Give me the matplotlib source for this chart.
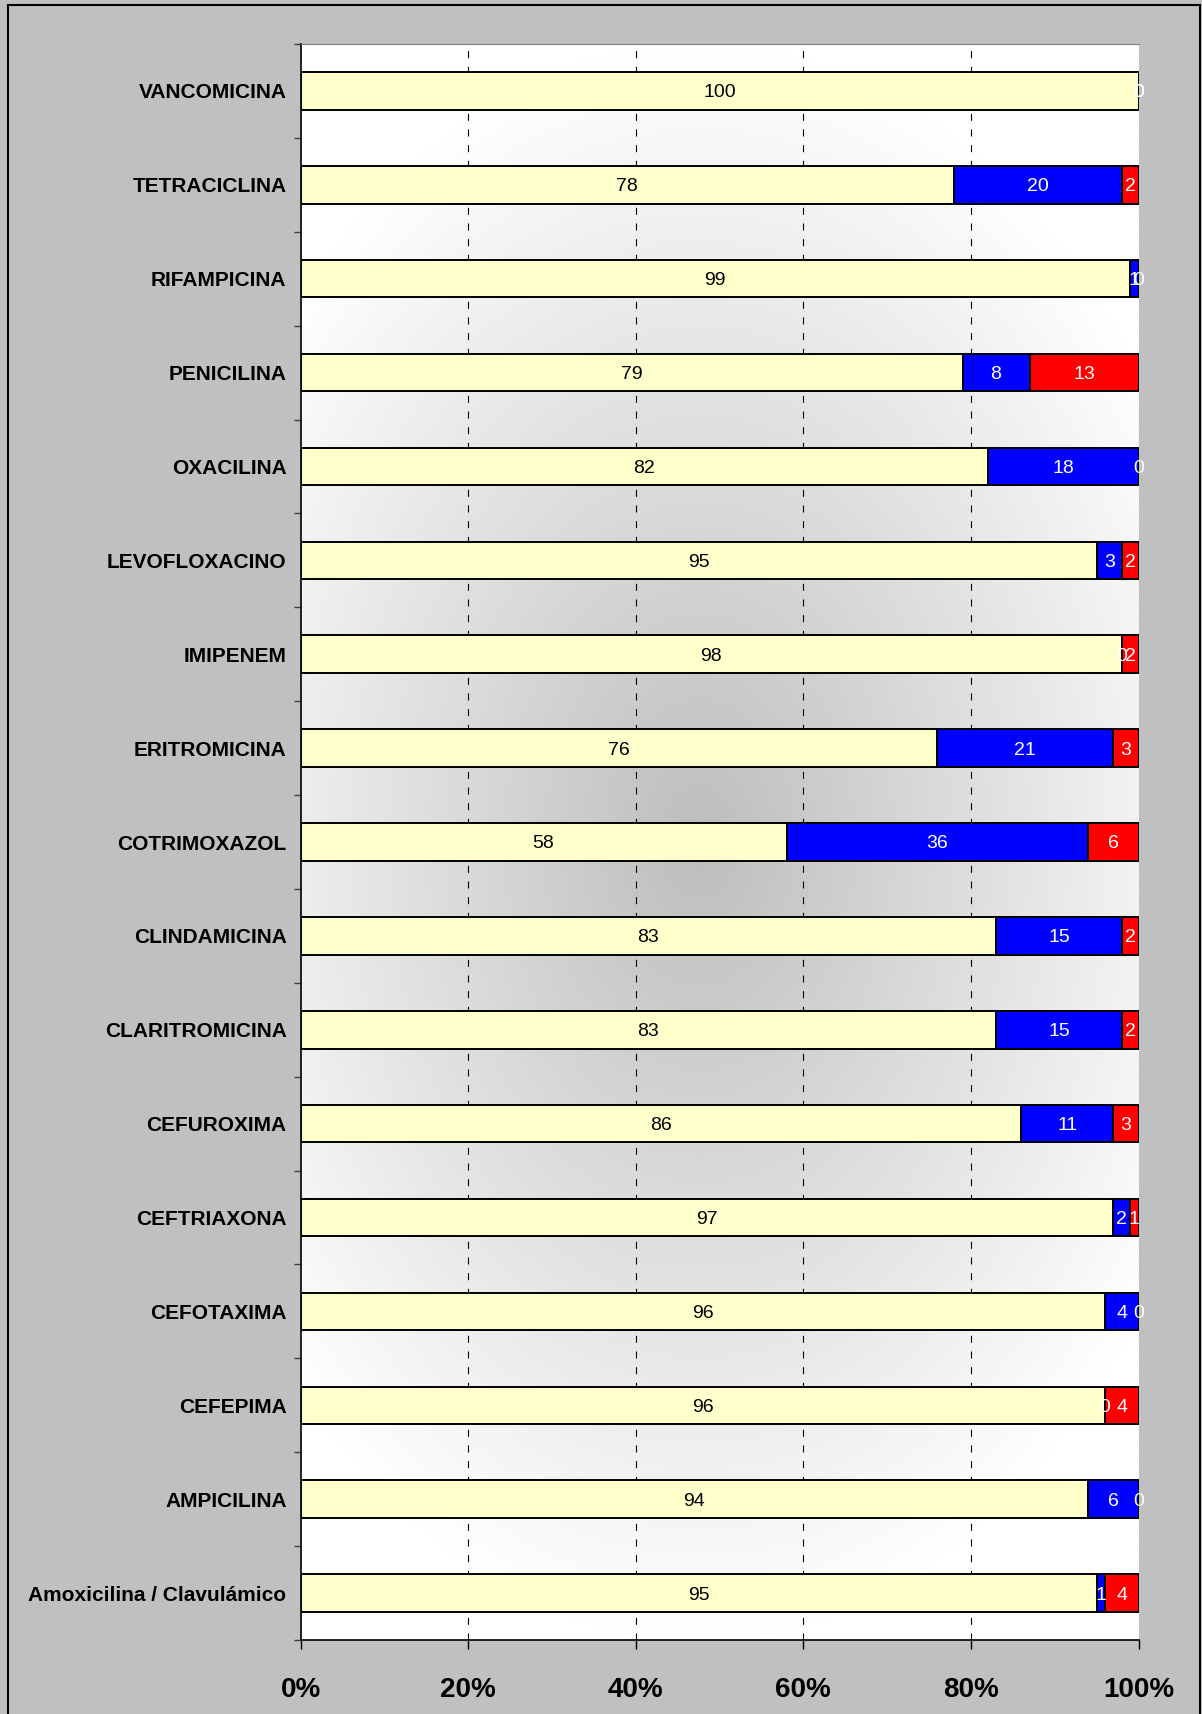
"""Susceptibility profile per antibiotic, stacked 100% horizontal bars."""

import numpy as np
import matplotlib

matplotlib.use("Agg")
import matplotlib.pyplot as plt
from matplotlib.lines import Line2D

plt.rcParams["font.family"] = ["Liberation Sans", "DejaVu Sans"]

# bottom to top, as drawn
antibiotics = [
    "Amoxicilina / Clavulámico",
    "AMPICILINA",
    "CEFEPIMA",
    "CEFOTAXIMA",
    "CEFTRIAXONA",
    "CEFUROXIMA",
    "CLARITROMICINA",
    "CLINDAMICINA",
    "COTRIMOXAZOL",
    "ERITROMICINA",
    "IMIPENEM",
    "LEVOFLOXACINO",
    "OXACILINA",
    "PENICILINA",
    "RIFAMPICINA",
    "TETRACICLINA",
    "VANCOMICINA",
]
sensible = [95, 94, 96, 96, 97, 86, 83, 83, 58, 76, 98, 95, 82, 79, 99, 78, 100]
resistente = [1, 6, 0, 4, 2, 11, 15, 15, 36, 21, 0, 3, 18, 8, 1, 20, 0]
intermedio = [4, 0, 4, 0, 1, 3, 2, 2, 6, 3, 2, 2, 0, 13, 0, 2, 0]

x_ticks = [0, 20, 40, 60, 80, 100]

series = [
    (sensible, "#FFFFCC", "black"),
    (resistente, "#0000FF", "white"),
    (intermedio, "#FF0000", "white"),
]

W, H = 1202, 1714
fig = plt.figure(figsize=(W / 100, H / 100), dpi=100, facecolor="#C0C0C0")
ax = fig.add_axes([300.5 / W, 1 - 1640 / H, (1138.5 - 300.5) / W, (1640 - 44) / H])

n = len(antibiotics)
y = np.arange(n)
ax.set_xlim(0, 100)
ax.set_ylim(-0.5, n - 0.5)

# grey shading of the plot area, darkest in the middle, fading to white
gx, gy = np.meshgrid(np.linspace(-1, 1, 400), np.linspace(-1, 1, 400))
r = np.sqrt(((gx + 0.05) / 1.3) ** 2 + (gy / 1.0) ** 2)
frac = np.clip(1.0 - r, 0, 1)
shade = (255 - 66 * frac) / 255.0
rgb = np.dstack([shade, shade, shade])
ax.imshow(rgb, extent=(0, 100, -0.5, n - 0.5), aspect="auto", zorder=0,
          interpolation="bilinear")

for xv in x_ticks[1:-1]:
    ax.axvline(xv, color="black", lw=0.8, linestyle=(0, (6.3, 7.8)), zorder=1)
ax.axvline(100, color="#808080", lw=0.8, linestyle=(0, (6.3, 7.8)), zorder=1)

left = np.zeros(n)
for vals, color, txt_color in series:
    vals = np.array(vals, dtype=float)
    ax.barh(y, vals, left=left, height=0.4, color=color, edgecolor="black",
            linewidth=1.4, zorder=2)
    for yi, (l, v) in enumerate(zip(left, vals)):
        ax.text(l + v / 2, yi, f"{int(v)}", ha="center", va="center_baseline",
                color=txt_color, fontsize=14, zorder=3, clip_on=False)
    left += vals

ax.set_xticks(x_ticks)
ax.set_xticklabels([f"{v}%" for v in x_ticks], fontsize=20, fontweight="bold")
ax.tick_params(axis="x", direction="out", length=6.5, width=1, pad=20)

ax.set_yticks(np.arange(-0.5, n, 1.0))
ax.set_yticklabels([])
ax.tick_params(axis="y", which="major", direction="out", length=5, width=1,
               color="#404040")
ax.set_yticks(y, minor=True)
ax.set_yticklabels(antibiotics, minor=True, fontsize=15, fontweight="bold")
ax.tick_params(axis="y", which="minor", length=0, pad=10)

ax.spines["left"].set_color("black")
ax.spines["left"].set_linewidth(1.2)
ax.spines["bottom"].set_color("black")
ax.spines["bottom"].set_linewidth(1.2)
ax.spines["top"].set_color("#808080")
ax.spines["top"].set_linewidth(0.8)
ax.spines["right"].set_visible(False)

# outer chart frame (left, top and right edges)
fx0, fx1, fy1 = 8 / W, 1200 / W, 1 - 5 / H
for xs, ys in [([fx0, fx0], [0, fy1]), ([fx0, fx1], [fy1, fy1]), ([fx1, fx1], [0, fy1])]:
    fig.add_artist(Line2D(xs, ys, transform=fig.transFigure, color="black", lw=1.5))

fig.savefig("out.png", dpi=100, facecolor=fig.get_facecolor())
